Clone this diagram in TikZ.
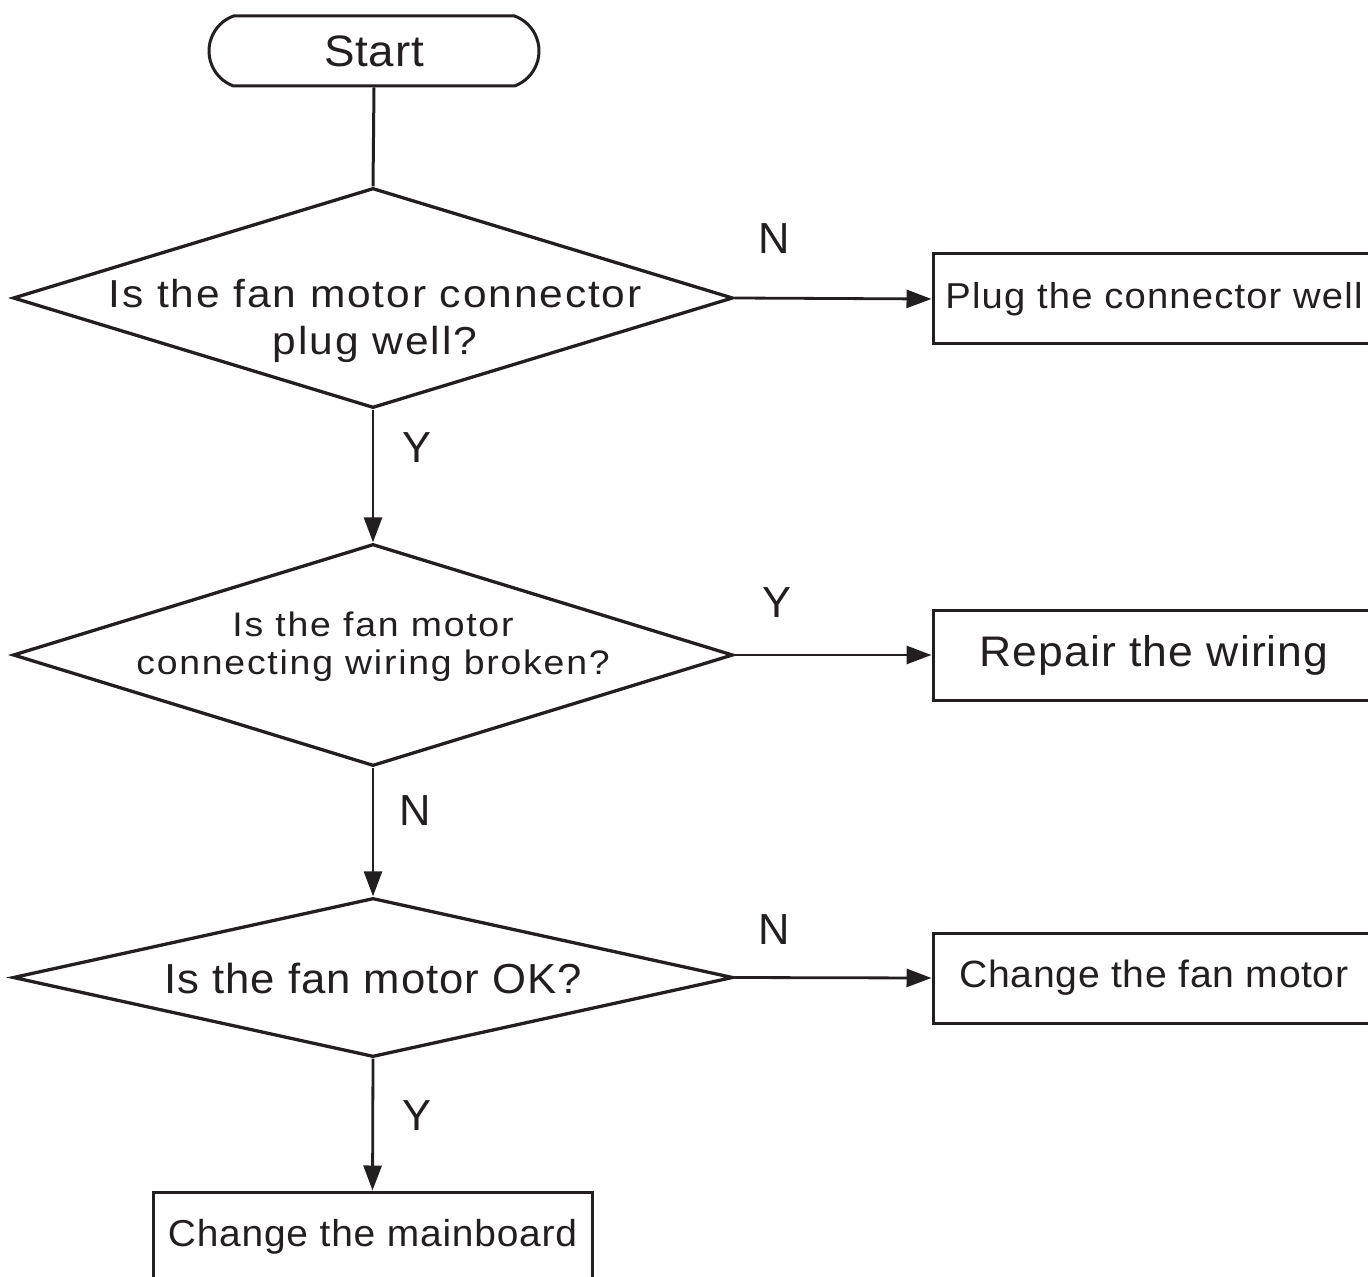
\documentclass[tikz,border=0pt]{standalone}
\usepackage{fontspec}
\setmainfont{Liberation Sans}
\usetikzlibrary{shapes.geometric,shapes.misc,arrows.meta}
\definecolor{ink}{HTML}{231F20}
\begin{document}
\begin{tikzpicture}[x=0.5pt,y=-0.5pt,
  fnt/.style n args={4}{font=\fontsize{#1}{#2}\selectfont\addfontfeature{FakeStretch=#3,LetterSpace=#4}},
  term/.style={rounded rectangle, rounded rectangle arc length=140, draw=ink, line width=1.5pt,
    minimum width=165pt, minimum height=35pt, inner sep=0pt, text=ink},
  decision/.style={diamond, draw=ink, line width=1.65pt, minimum width=360pt,
    minimum height=110pt, inner sep=0pt},
  qtext/.style={align=center, inner sep=0pt, text=ink},
  stepbox/.style={rectangle, draw=ink, line width=1.5pt, minimum width=221pt,
    minimum height=45pt, inner sep=0pt, text=ink},
  link/.style={draw=ink, line width=1.5pt},
  arr/.style={draw=ink, line width=1.4pt, -{Triangle[length=12.5pt,width=9pt]}},
  lbl/.style={inner sep=0pt, text=ink, fnt={21.75pt}{26pt}{1.0}{0}},
]
\clip (0,0) rectangle (1368,1277);
\fill[white] (0,0) rectangle (1368,1277);

% start terminal
\node[term, fnt={22pt}{26pt}{1.04}{1.8}] (start) at (374,51) {Start};

% decisions
\node[decision] (d1) at (373,298) {};
\node[qtext, fnt={19.5pt}{23.5pt}{1.09}{4.8}] (q1) at (375,321) {Is the fan motor connector\\plug well?};

\node[decision, minimum height=111pt] (d2) at (373,655) {};
\node[qtext, fnt={17pt}{19pt}{1.1}{5.2}] (q2) at (373,647) {Is the fan motor\\connecting wiring broken?};

\node[decision, minimum height=79.5pt] (d3) at (373,977.5) {};
\node[qtext, fnt={21pt}{25pt}{1.04}{2.3}] (q3) at (373,978) {Is the fan motor OK?};

% actions
\node[stepbox, fnt={18pt}{22pt}{1.06}{3.3}] (b1) at (1154,299) {Plug the connector well};
\node[stepbox, fnt={21.4pt}{25pt}{1.04}{2.5}] (b2) at (1154,655) {Repair the wiring};
\node[stepbox, fnt={19pt}{23pt}{1.03}{1.7}] (b3) at (1154,978) {Change the fan motor};
\node[stepbox, minimum width=219.5pt, fnt={18.75pt}{23pt}{1.037}{2.1}] (b4) at (372.5,1237) {Change the mainboard};

% connectors
\draw[link] (start.south) -- (d1.north);
\draw[arr] (d1.east) -- node[lbl, pos=0.2, yshift=29.75pt] {N} (b1.west);
\draw[arr] (d1.south) -- node[lbl, pos=0.287, xshift=21.75pt] {Y} (d2.north);
\draw[arr] (d2.east) -- node[lbl, pos=0.215, yshift=26pt] {Y} (b2.west);
\draw[arr] (d2.south) -- node[lbl, pos=0.333, xshift=21pt] {N} (d3.north);
\draw[arr] (d3.east) -- node[lbl, pos=0.2, yshift=24pt] {N} (b3.west);
\draw[arr] (d3.south) -- node[lbl, pos=0.43, xshift=22pt] {Y} (b4.north);
\end{tikzpicture}
\end{document}
